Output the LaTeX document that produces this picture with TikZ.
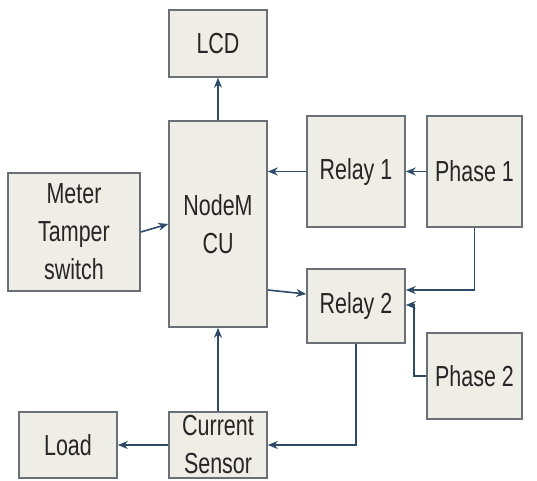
\documentclass[tikz,border=0pt]{standalone}
\usepackage{fontspec}
\newfontfamily\blockfont[FakeStretch=0.74]{Liberation Sans}
\usetikzlibrary{arrows.meta, positioning}
\definecolor{boxfill}{RGB}{238,237,230}
\definecolor{boxline}{RGB}{105,112,118}
\definecolor{wire}{RGB}{45,75,105}

\begin{document}
\begin{tikzpicture}[x=1pt,y=-1pt,
  block/.style={draw=boxline,fill=boxfill,line width=1.6pt,align=center,inner sep=0pt,
    font=\blockfont\fontsize{29}{38}\selectfont,text=black!85},
  wirearrow/.style={color=wire,line width=1.6pt,-{Stealth[length=10pt,width=8pt]}}]
\useasboundingbox (0,0) rectangle (537,480);
%controller and display
\node[block,minimum width=98pt,minimum height=67pt] (lcd) at (218,43.5) {LCD};
\node[block,minimum width=98pt,minimum height=206pt] (nodemcu) at (218,224) {NodeM\\CU};
%relays and phases
\node[block,minimum width=98pt,minimum height=111pt] (relay1) at (356,171.5) {Relay 1};
\node[block,minimum width=95pt,minimum height=111pt] (phase1) at (474.5,171.5) {Phase 1};
\node[block,minimum width=98pt,minimum height=74pt] (relay2) at (356,306) {Relay 2};
\node[block,minimum width=95pt,minimum height=86pt] (phase2) at (474.5,376) {Phase 2};
%left side
\node[block,minimum width=132pt,minimum height=118pt] (meter) at (74,232) {Meter\\Tamper\\switch};
\node[block,minimum width=98pt,minimum height=66pt] (load) at (68,445) {Load};
\node[block,minimum width=98pt,minimum height=66pt] (sensor) at (218,445) {Current\\Sensor};
%arrows into and out of the controller
\draw[wirearrow] (nodemcu.north) -- (lcd.south);
\draw[wirearrow] (relay1.west) -- (nodemcu.east |- relay1.west);
\draw[wirearrow] (meter.east) -- (nodemcu.west);
\draw[wirearrow] ([yshift=-66pt]nodemcu.east) -- ([yshift=12pt]relay2.west);
\draw[wirearrow] (sensor.north) -- (nodemcu.south);
%power path
\draw[wirearrow] (phase1.west) -- (relay1.east);
\draw[wirearrow] (phase1.south) |- ([yshift=16pt]relay2.east);
\draw[wirearrow] (phase2.west) -- ++(-12,0) |- ([yshift=1pt]relay2.east);
\draw[wirearrow] (relay2.south) |- (sensor.east);
\draw[wirearrow] (sensor.west) -- (load.east);
\end{tikzpicture}
\end{document}
